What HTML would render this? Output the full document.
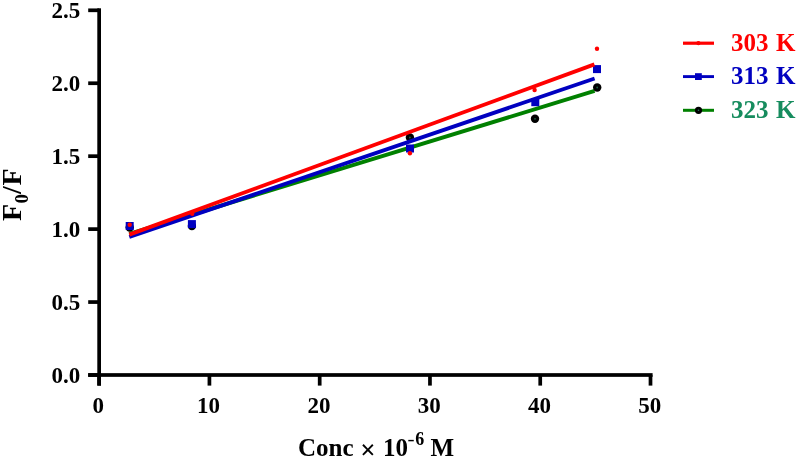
<!DOCTYPE html>
<html><head><meta charset="utf-8"><style>
html,body{margin:0;padding:0;background:#fff;}
svg{display:block;}
text{font-family:"Liberation Serif",serif;font-weight:bold;}
.t{font-size:23px;fill:#000;}
.tt{font-size:25px;fill:#000;}
.yt{font-size:28px;fill:#000;}
.lg{font-size:25px;}
</style></head><body>
<svg width="797" height="458" viewBox="0 0 797 458">
<rect x="97.30" y="8.3" width="3.7" height="377.30" fill="#000"/>
<rect x="88.2" y="373.15" width="564.40" height="3.7" fill="#000"/>
<rect x="88.2" y="373.15" width="10.95" height="3.7" fill="#000"/>
<text x="80.3" y="382.60" text-anchor="end" class="t">0.0</text>
<rect x="88.2" y="300.21" width="10.95" height="3.7" fill="#000"/>
<text x="80.3" y="309.66" text-anchor="end" class="t">0.5</text>
<rect x="88.2" y="227.27" width="10.95" height="3.7" fill="#000"/>
<text x="80.3" y="236.72" text-anchor="end" class="t">1.0</text>
<rect x="88.2" y="154.33" width="10.95" height="3.7" fill="#000"/>
<text x="80.3" y="163.78" text-anchor="end" class="t">1.5</text>
<rect x="88.2" y="81.39" width="10.95" height="3.7" fill="#000"/>
<text x="80.3" y="90.84" text-anchor="end" class="t">2.0</text>
<rect x="88.2" y="8.45" width="10.95" height="3.7" fill="#000"/>
<text x="80.3" y="17.90" text-anchor="end" class="t">2.5</text>
<rect x="97.30" y="375.00" width="3.7" height="10.60" fill="#000"/>
<text x="98.35" y="412.8" text-anchor="middle" class="t">0</text>
<rect x="207.57" y="375.00" width="3.7" height="10.60" fill="#000"/>
<text x="208.62" y="412.8" text-anchor="middle" class="t">10</text>
<rect x="317.84" y="375.00" width="3.7" height="10.60" fill="#000"/>
<text x="318.89" y="412.8" text-anchor="middle" class="t">20</text>
<rect x="428.11" y="375.00" width="3.7" height="10.60" fill="#000"/>
<text x="429.16" y="412.8" text-anchor="middle" class="t">30</text>
<rect x="538.38" y="375.00" width="3.7" height="10.60" fill="#000"/>
<text x="539.43" y="412.8" text-anchor="middle" class="t">40</text>
<rect x="648.65" y="375.00" width="3.7" height="10.60" fill="#000"/>
<text x="649.70" y="412.8" text-anchor="middle" class="t">50</text>
<line x1="129.3" y1="233.8" x2="594.6" y2="90.9" stroke="#008000" stroke-width="3.9"/>
<g fill="#000"><circle cx="129.7" cy="227.5" r="4.2"/><circle cx="191.9" cy="226" r="4.2"/><circle cx="409.9" cy="137.5" r="4.2"/><circle cx="535" cy="118.8" r="4.2"/><circle cx="597.2" cy="87.5" r="4.2"/></g>
<g fill="#1f5a44"><circle cx="129.7" cy="227.5" r="0.9"/><circle cx="191.9" cy="226" r="0.9"/><circle cx="409.9" cy="137.5" r="0.9"/><circle cx="535" cy="118.8" r="0.9"/><circle cx="597.2" cy="87.5" r="0.9"/></g>
<line x1="129.3" y1="237.0" x2="594.6" y2="78.5" stroke="#0000C0" stroke-width="3.9"/>
<g fill="#0000C0"><rect x="125.7" y="222" width="8" height="8"/><rect x="187.9" y="220.1" width="8" height="8"/><rect x="406" y="144.5" width="8" height="8"/><rect x="531.3" y="98.2" width="8" height="8"/><rect x="593" y="65.1" width="8" height="8"/></g>
<line x1="129.3" y1="234.6" x2="594.4" y2="64.4" stroke="#FF0000" stroke-width="3.9"/>
<g fill="#FF0000"><circle cx="129.7" cy="224.8" r="2.2"/><circle cx="192.2" cy="213.8" r="2.2"/><circle cx="409.9" cy="153.2" r="2.2"/><circle cx="534.6" cy="90" r="2.2"/><circle cx="597" cy="48.8" r="2.2"/></g>
<line x1="683" y1="43.2" x2="714" y2="43.2" stroke="#FF0000" stroke-width="3.2"/>
<circle cx="698.4" cy="43.2" r="2.1" fill="#FF0000"/>
<text y="50.6" class="lg" fill="#FF0000"><tspan x="731">303</tspan><tspan x="776">K</tspan></text>
<line x1="683" y1="76.6" x2="714" y2="76.6" stroke="#0000C0" stroke-width="2.9"/>
<rect x="695" y="73.2" width="6.8" height="6.8" fill="#0000C0"/>
<text y="84.2" class="lg" fill="#0000C0"><tspan x="731">313</tspan><tspan x="776">K</tspan></text>
<line x1="683" y1="110.3" x2="714" y2="110.3" stroke="#008000" stroke-width="3"/>
<circle cx="698.5" cy="110.3" r="3.6" fill="#000"/>
<circle cx="698.5" cy="110.3" r="0.8" fill="#2a7a66"/>
<text y="117.9" class="lg" fill="#168C5E"><tspan x="731">323</tspan><tspan x="776">K</tspan></text>
<text y="455.5" class="tt"><tspan x="298">Conc</tspan></text>
<text x="360.2" y="459" font-size="27" font-weight="normal">×</text>
<text x="383" y="455.5" class="tt">10</text>
<text transform="translate(407.5,444.5) scale(1.25,1)" font-size="17">-</text><text x="415.3" y="444.5" font-size="18">6</text>
<text x="430.5" y="455.5" class="tt">M</text>
<text transform="translate(21,221) rotate(-90)" class="yt">F</text>
<text transform="translate(27.6,203.6) rotate(-90)" font-size="19">0</text>
<text transform="translate(21,194) rotate(-90)" class="yt">/</text>
<text transform="translate(21,185.5) rotate(-90)" class="yt">F</text>
</svg>
</body></html>
